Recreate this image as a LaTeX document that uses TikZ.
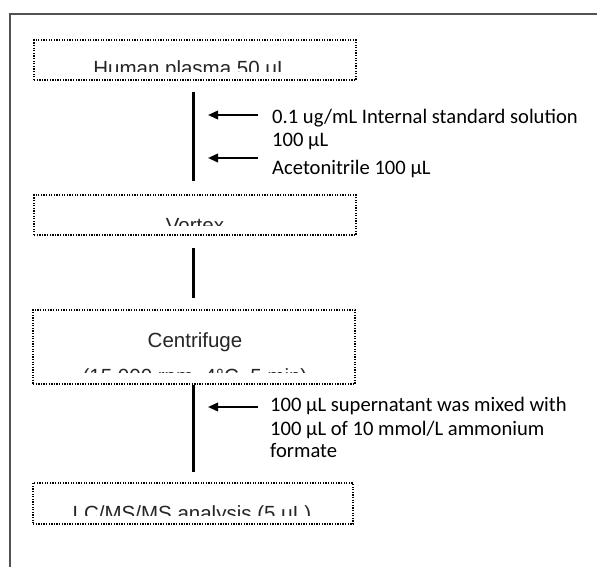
\documentclass[tikz,border=0pt]{standalone}
\usepackage{fontspec}
\setmainfont{Liberation Sans}
\newfontfamily\sidefont{Carlito}
\usetikzlibrary{arrows.meta}
\tikzset{
  pbox/.style={draw=black, line width=1.3pt, dash pattern=on 1.3pt off 1.3pt, inner sep=0pt, outer sep=0pt, minimum width=322pt},
  boxtext/.style={inner sep=0pt, anchor=base, font=\fontsize{20.5}{24}\selectfont, text=black!85},
  side/.style={inner sep=0pt, anchor=base west, font=\sidefont\fontsize{20.6}{24}\selectfont},
  spine/.style={line width=3pt, black},
  arr/.style={line width=2pt, -{Triangle[length=10pt,width=8.5pt]}},
  frame/.style={line width=2pt, draw=black!68}
}
\begin{document}
\begin{tikzpicture}[x=1pt,y=-1pt]
\useasboundingbox (0,0) rectangle (597,567);
\fill[white] (0,0) rectangle (597,567);
% outer frame (open to right and bottom)
\coordinate (fr1) at (597,14);
\coordinate (fr2) at (10,14);
\coordinate (fr3) at (10,567);
\draw[frame] (fr1) -- (fr2) -- (fr3);

% boxes
\node[pbox, minimum height=40pt] (b1) at (195,60) {};
\node[pbox, minimum height=40pt] (b2) at (195,215) {};
\node[pbox, minimum height=74pt] (b3) at (194,347) {};
\node[pbox, minimum width=320pt, minimum height=41pt] (b4) at (193,503.5) {};

% clipped box texts
\begin{scope}
\clip (b1.north west) rectangle ([yshift=8.5pt]b1.south east);
\node[boxtext] (t1) at (191,75.7) {Human plasma 50 μL};
\end{scope}
\begin{scope}
\clip (b2.north west) rectangle ([yshift=10pt]b2.south east);
\node[boxtext] (t2) at (195,232) {Vortex};
\end{scope}
\begin{scope}
\clip (b3.north west) rectangle ([yshift=11.8pt]b3.south east);
\node[boxtext] (t3a) at (195,347.7) {Centrifuge};
\node[boxtext] (t3b) at (195,383) {(15,000 rpm, 4°C, 5 min)};
\end{scope}
\begin{scope}
\clip (b4.north west) rectangle ([yshift=9pt]b4.south east);
\node[boxtext] (t4) at (192,520.7) {LC/MS/MS analysis (5 μL)};
\end{scope}

% spine
\draw[spine] ([xshift=-2pt,yshift=-12pt]b1.south) -- ([xshift=-2pt,yshift=14pt]b2.north);
\draw[spine] ([xshift=-2pt,yshift=-13pt]b2.south) -- ([xshift=-1pt,yshift=12pt]b3.north);
\draw[spine] ([xshift=-1pt,yshift=-1pt]b3.south) -- ([xshift=0pt,yshift=11pt]b4.north);

% side texts
\node[side] (s1) at (272,124) {0.1 ug/mL Internal standard solution};
\node[side] (s2) at (272,146.7) {100 μL};
\node[side] (s3) at (272,175) {Acetonitrile 100 μL};
\node[side] (s4) at (270,411.7) {100 μL supernatant was mixed with};
\node[side] (s5) at (270,435) {100 μL of 10 mmol/L ammonium};
\node[side] (s6) at (270,457) {formate};

% arrows
\coordinate (a1s) at (258,115);
\coordinate (a1e) at (208,115);
\coordinate (a2s) at (258,158);
\coordinate (a2e) at (208,158);
\coordinate (a3s) at (258,407);
\coordinate (a3e) at (208,407);
\draw[arr] (a1s) -- (a1e);
\draw[arr] (a2s) -- (a2e);
\draw[arr] (a3s) -- (a3e);
\end{tikzpicture}
\end{document}
